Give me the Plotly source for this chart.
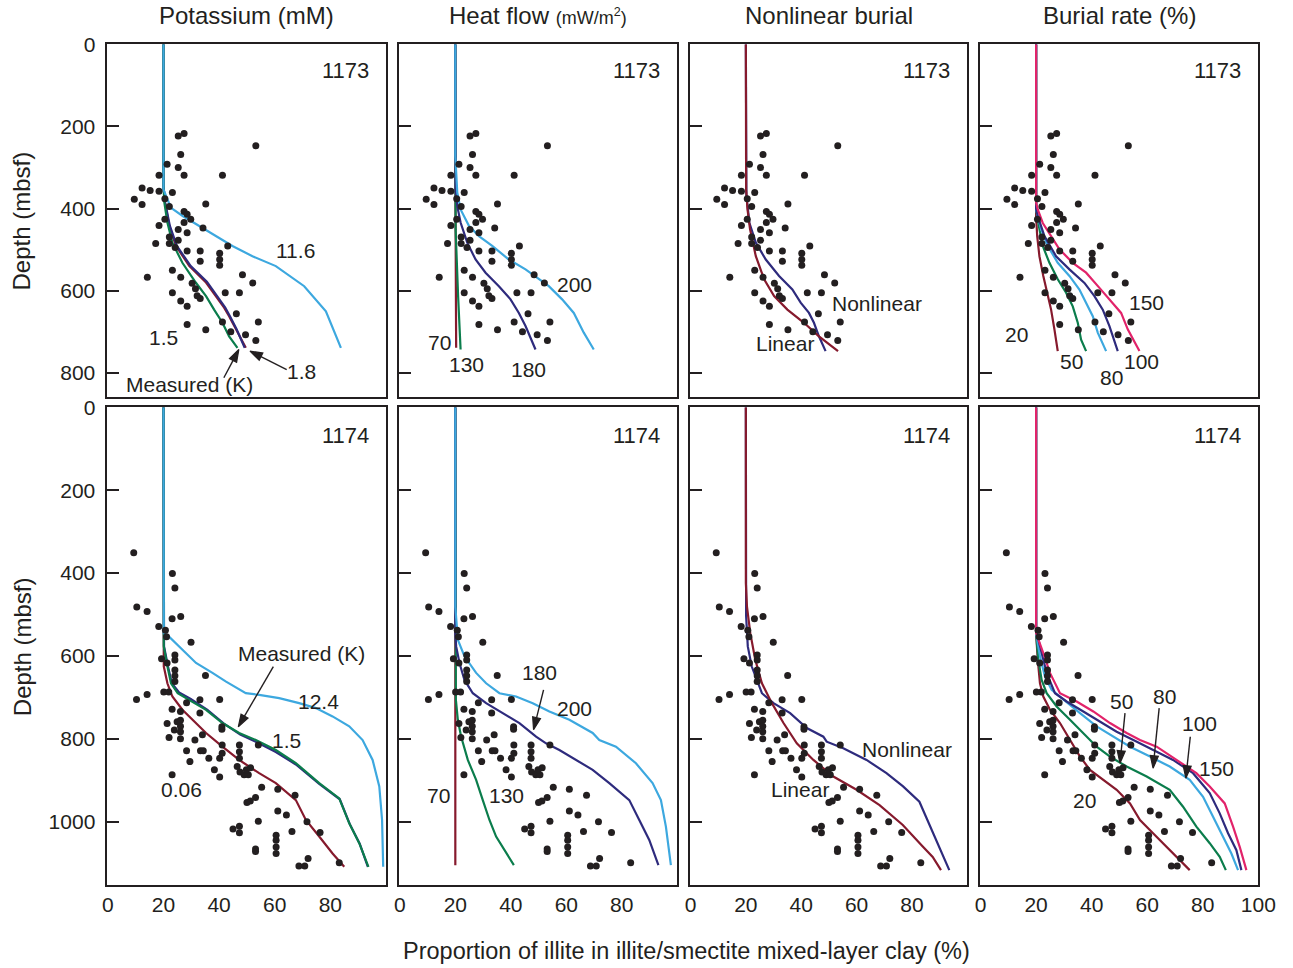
import plotly.graph_objects as go

FONT = "Liberation Sans, Arial, sans-serif"
INK = "#231F20"

SKY = "#3DA8DF"
GREEN = "#0B7D4C"
NAVY = "#2E2B7D"
MAROON = "#861A2D"
PINK = "#E2236A"

# ---- Measured illite proportion (%) vs depth (mbsf), Site 1173 ----
site1173_illite = [25.3, 27.4, 53.2, 26.2, 21.3, 25.3, 18.4, 27.4, 41.2, 12.3, 15.2, 18.4, 23.2, 9.5,
                   12.3, 20.5, 22.1, 35.2, 27.4, 28.5, 29.8, 27.4, 20.5, 18.4, 34.2, 25.3, 28.5, 22.1,
                   25.3, 17.2, 22.1, 24.2, 28.5, 33.2, 43.1, 40.2, 40.2, 40.2, 33.2, 23.2, 14.2, 26.2,
                   48.4, 52.1, 30.3, 31.5, 23.2, 26.2, 28.5, 33.2, 32.1, 42.2, 47.3, 46.2, 28.5, 35.2,
                   41.2, 54.1, 49.5, 44.2, 53.2]
site1173_depth = [223, 217, 247, 268, 292, 300, 319, 319, 319, 350, 356, 358, 361, 377,
                  390, 376, 395, 389, 407, 414, 426, 434, 426, 441, 447, 451, 459, 469,
                  477, 485, 485, 495, 503, 503, 491, 509, 524, 538, 528, 550, 567, 567,
                  561, 581, 582, 595, 605, 625, 638, 619, 612, 605, 605, 656, 682, 695,
                  676, 676, 707, 700, 721]

# ---- Measured illite proportion (%) vs depth (mbsf), Site 1174 ----
site1174_illite = [9.3, 23.2, 24.1, 10.4, 14.1, 23.1, 26.2, 18.3, 20.7, 21.1, 29.9, 24.1, 24.1, 19.3,
                   21.3, 24.1, 24.1, 35.1, 24.1, 10.3, 14.1, 20.1, 21.9, 28.3, 33.1, 40.2, 23.1, 26.1,
                   33.1, 41.0, 41.0, 21.3, 24.9, 26.1, 26.1, 26.1, 26.1, 23.9, 22.0, 34.0, 31.3, 28.3,
                   33.3, 34.3, 29.5, 36.3, 40.2, 41.1, 41.1, 47.3, 47.3, 47.3, 54.1, 38.3, 40.2, 23.1,
                   46.5, 47.5, 49.0, 50.5, 51.3, 49.8, 55.3, 61.1, 67.3, 53.1, 51.2, 50.0, 61.1, 64.2,
                   71.6, 54.1, 66.2, 76.3, 45.0, 47.3, 47.3, 60.5, 60.5, 60.5, 60.5, 53.1, 53.1, 72.0,
                   68.7, 70.8, 83.2]
site1174_depth = [351, 401, 436, 482, 493, 510, 505, 529, 538, 554, 567, 598, 610, 607,
                  617, 634, 648, 647, 662, 705, 693, 687, 687, 713, 706, 705, 729, 734,
                  738, 771, 777, 763, 759, 755, 770, 783, 800, 779, 797, 790, 803, 829,
                  829, 829, 855, 847, 847, 835, 815, 815, 831, 847, 815, 875, 892, 887,
                  867, 880, 887, 887, 870, 875, 917, 922, 936, 942, 950, 954, 974, 984,
                  1000, 999, 1024, 1026, 1018, 1011, 1027, 1033, 1045, 1061, 1077, 1066, 1072, 1089,
                  1107, 1107, 1099]

# ---- Model curves (illite %, depth mbsf) ----
# Site 1173, potassium (mM)
k1173_11_6 = [(20, 0), (20, 353), (20.9, 369), (22.7, 398), (26.9, 418), (32.8, 442), (38.9, 467),
              (44.8, 491), (52, 516), (60.4, 540), (70.6, 589), (78.4, 650), (83.8, 739)]
k1173_measured = [(20, 0), (20, 345), (20.3, 385), (21.4, 434), (23.2, 483), (26.8, 532), (31.6, 580),
                  (35.3, 613), (38.2, 646), (41.2, 678), (43.6, 711), (46.6, 739)]
k1173_1_5 = [(20, 0), (20, 345), (20.6, 385), (22.3, 442), (24.8, 491), (29.8, 540), (35.6, 578),
             (39.3, 612), (42.2, 641), (43.9, 662), (46.3, 694), (49.2, 739)]
k1173_1_8 = [(20, 0), (20, 345), (20.5, 385), (22.1, 442), (24.5, 491), (29.3, 540), (35.3, 580),
             (38.9, 613), (41.8, 641), (43.6, 662), (46, 694), (49.6, 739)]
# Site 1173, heat flow (mW/m2)
hf1173_70 = [(20, 0), (20, 300), (20.3, 739)]
hf1173_130 = [(20, 0), (20, 272), (20.1, 450), (21, 613), (21.9, 743)]
hf1173_180 = [(20, 0), (20, 300), (20.1, 353), (20.7, 394), (21.9, 434), (24.3, 483), (27.3, 524),
              (30.9, 556), (35.7, 589), (39.9, 621), (42.9, 654), (45.3, 686), (48.9, 743)]
hf1173_200 = [(20, 0), (20, 272), (20.7, 361), (21.9, 402), (24.9, 442), (28.5, 467), (33.3, 491),
              (39.3, 524), (45.3, 548), (53.7, 589), (58.5, 621), (62.7, 654), (66.3, 702), (69.9, 743)]
# Site 1173, linear vs nonlinear burial
nl1173_nonlinear = [(20, 0), (20, 300), (20.2, 369), (21.3, 435), (23.6, 483), (27.2, 524), (32, 564),
                    (36.8, 597), (39.8, 629), (42.8, 654), (44.6, 678), (46.4, 711), (48.8, 747)]
nl1173_linear = [(20, 0), (20, 288), (20.1, 353), (20.6, 402), (21.5, 450), (23.6, 516), (26.6, 572),
                 (30.2, 613), (35, 646), (41, 678), (46.4, 711), (53.3, 747)]
# Site 1173, burial rate (%)
br1173_20 = [(20, 0), (20, 418), (20.4, 467), (21.2, 516), (22.6, 564), (24.2, 613), (25.4, 646),
             (26.6, 694), (27.8, 747)]
br1173_50 = [(20, 0), (20, 402), (21.2, 450), (22.4, 491), (24.8, 532), (27.8, 572), (30.8, 605),
             (33.2, 638), (35, 678), (36.2, 719), (38, 747)]
br1173_80 = [(20, 0), (20, 402), (21.8, 450), (24.2, 491), (27.8, 532), (32, 564), (35.6, 597),
             (38, 629), (40.4, 662), (42.2, 702), (45.2, 747)]
br1173_100 = [(20, 0), (20, 400), (20.6, 418), (23, 467), (27.2, 516), (32, 548), (37.4, 581),
              (41, 613), (44, 646), (46.4, 686), (49.4, 747)]
br1173_150 = [(20, 0), (20, 385), (20.6, 402), (22.4, 435), (25.4, 467), (28.4, 499), (33.2, 532),
              (38, 556), (42.8, 593), (46.4, 621), (50.6, 654), (53, 694), (57.2, 747)]

# Site 1174, potassium (mM)
k1174_12_4 = [(20, 0), (20, 530), (20.1, 545), (21.9, 553), (25.6, 577), (31.7, 617), (37.6, 641),
              (42.5, 662), (49.6, 690), (54.4, 694), (61.6, 702), (68.8, 714), (74.8, 726), (80.8, 746),
              (86.8, 770), (91.6, 803), (95.2, 851), (97.6, 915), (98.6, 996), (99, 1109)]
k1174_1_5 = [(20, 0), (20, 545), (20.2, 577), (21.6, 625), (23, 666), (25.6, 688), (29.8, 704),
             (35.8, 730), (41.6, 763), (47.6, 790), (53.4, 808), (60.4, 832), (67.6, 862), (76, 909),
             (83.4, 946), (87, 1006), (90.6, 1054), (93.5, 1109)]
k1174_measured = [(20, 0), (20, 545), (20.1, 577), (21.4, 625), (22.7, 666), (25.1, 690), (29.3, 706),
                  (35.3, 730), (41.2, 762), (47.2, 786), (53.2, 803), (60.4, 827), (67.6, 859), (76, 907),
                  (83.2, 944), (86.8, 1004), (90.4, 1052), (93.7, 1109)]
k1174_0_06 = [(20, 0), (20, 561), (20.1, 625), (21.4, 666), (23.2, 698), (26.8, 730), (30.4, 754),
              (35.3, 786), (41.2, 819), (47.2, 851), (54.4, 883), (60.4, 907), (67.6, 948), (71.2, 996),
              (76, 1036), (80.8, 1077), (85, 1109)]
# Site 1174, heat flow (mW/m2)
hf1174_70 = [(20, 0), (20, 1105)]
hf1174_130 = [(20, 0), (20, 674), (20.2, 706), (20.9, 754), (22.1, 795), (24.5, 851), (27.5, 899),
              (29.9, 948), (32.3, 996), (34.7, 1036), (37.7, 1069), (41.1, 1105)]
hf1174_180 = [(20, 0), (20, 545), (20.3, 577), (21.5, 617), (23.3, 658), (26.3, 690), (31.1, 714),
              (37.1, 738), (43.1, 762), (49.1, 795), (52.7, 811), (57.5, 827), (63.5, 851), (69.5, 875),
              (75.5, 907), (82.7, 948), (86.3, 996), (89.9, 1044), (93.2, 1105)]
hf1174_200 = [(20, 0), (20, 481), (20.9, 561), (23.3, 601), (27.5, 641), (31.1, 666), (35.9, 690),
              (41.9, 698), (47.9, 714), (53.9, 734), (61.1, 754), (69.5, 786), (71.9, 803), (77.9, 819),
              (85.1, 859), (91.1, 907), (94.1, 948), (95.9, 1012), (97.7, 1105)]
# Site 1174, linear vs nonlinear burial
nl1174_nonlinear = [(20, 0), (20, 432), (20.1, 505), (20.7, 577), (22.1, 625), (25.8, 690), (30, 714),
                    (36, 738), (42, 774), (48, 795), (49.2, 807), (55.2, 823), (63.6, 851), (70.8, 883),
                    (76.8, 915), (82.7, 952), (85.1, 988), (88.7, 1044), (93.5, 1117)]
nl1174_linear = [(20, 0), (20, 424), (20.4, 481), (21.6, 545), (23.4, 609), (25.8, 666), (29.4, 714),
                 (33.6, 762), (38.4, 811), (44.4, 851), (51.6, 891), (60, 923), (68.3, 960), (76.7, 1008),
                 (83.9, 1060), (87.5, 1085), (90.5, 1117)]
# Site 1174, burial rate (%)
br1174_20 = [(20, 0), (20, 545), (20.6, 609), (21.4, 666), (22.6, 698), (25, 730), (28.6, 762),
             (32.2, 803), (35.8, 843), (39.4, 875), (44.2, 899), (49, 923), (53.8, 956), (57.4, 996),
             (62.1, 1028), (66.9, 1061), (70.6, 1085), (75.3, 1117)]
br1174_50 = [(20, 0), (20, 545), (20.8, 609), (22, 658), (23.8, 690), (27.4, 722), (32.2, 754),
             (37, 786), (41.8, 819), (46.6, 843), (52.6, 867), (59.8, 891), (68.1, 923), (72.9, 964),
             (77.7, 1012), (82.5, 1052), (86.1, 1085), (88.3, 1117)]
br1174_80 = [(20, 0), (20, 545), (21.4, 601), (23.2, 650), (25.6, 682), (29.8, 706), (35.8, 738),
             (41.8, 770), (47.8, 795), (53.8, 819), (61, 843), (68.1, 867), (75.3, 899), (80.1, 940),
             (83.7, 988), (87.3, 1036), (90.3, 1077), (92.7, 1117)]
br1174_100 = [(20, 0), (20, 537), (22, 593), (23.8, 641), (26.8, 690), (31, 710), (37, 734), (43, 758),
              (49, 783), (55, 803), (62.1, 827), (69.3, 851), (76.5, 883), (82.5, 931), (86.1, 980),
              (89.1, 1028), (92.1, 1069), (93.9, 1117)]
br1174_150 = [(20, 0), (20, 545), (22.6, 593), (25, 641), (28.6, 690), (34.6, 710), (40.6, 734),
              (46.6, 762), (52.6, 786), (57.4, 803), (63.4, 819), (70.6, 851), (77.7, 883), (82.5, 915),
              (87.9, 956), (90.9, 1012), (93.3, 1061), (95.7, 1117)]

column_titles = ["Potassium (mM)",
                 "Heat flow <span style='font-size:18px'>(mW/m<sup>2</sup>)</span>",
                 "Nonlinear burial", "Burial rate (%)"]
site_labels = ["1173", "1174"]
depth_ticks = [[0, 200, 400, 600, 800], [0, 200, 400, 600, 800, 1000]]
depth_range = [[858, 0], [1153, 0]]
x_ticks_inner = [0, 20, 40, 60, 80]
x_ticks_last = [0, 20, 40, 60, 80, 100]

# panel curves, drawn in order (last one on top)
panel_curves = {
    1: [(k1173_1_8, MAROON), (k1173_1_5, NAVY), (k1173_measured, GREEN), (k1173_11_6, SKY)],
    2: [(hf1173_70, MAROON), (hf1173_130, GREEN), (hf1173_180, NAVY), (hf1173_200, SKY)],
    3: [(nl1173_nonlinear, NAVY), (nl1173_linear, MAROON)],
    4: [(br1173_20, MAROON), (br1173_50, GREEN), (br1173_80, SKY), (br1173_100, NAVY), (br1173_150, PINK)],
    5: [(k1174_0_06, MAROON), (k1174_1_5, NAVY), (k1174_measured, GREEN), (k1174_12_4, SKY)],
    6: [(hf1174_70, MAROON), (hf1174_130, GREEN), (hf1174_180, NAVY), (hf1174_200, SKY)],
    7: [(nl1174_nonlinear, NAVY), (nl1174_linear, MAROON)],
    8: [(br1174_20, MAROON), (br1174_50, GREEN), (br1174_80, SKY), (br1174_100, NAVY), (br1174_150, PINK)],
}

# curve labels: (panel, text, illite, depth)
curve_labels = [
    (1, "11.6", 67.3, 503), (1, "1.5", 20, 715), (1, "Measured (K)", 29.5, 829), (1, "1.8", 69.7, 796),
    (2, "200", 63, 585), (2, "70", 14.4, 727), (2, "130", 24, 780), (2, "180", 46.2, 792),
    (3, "Nonlinear", 67.4, 631), (3, "Linear", 34.1, 729),
    (4, "150", 59.8, 628), (4, "20", 13, 707), (4, "50", 32.8, 772), (4, "80", 47.2, 812), (4, "100", 58, 772),
    (5, "Measured (K)", 69.7, 593), (5, "12.4", 75.7, 710), (5, "1.5", 64.3, 803), (5, "0.06", 26.6, 923),
    (6, "180", 50.4, 641), (6, "200", 63, 726), (6, "70", 13.8, 938), (6, "130", 38.4, 938),
    (7, "Nonlinear", 78.3, 825), (7, "Linear", 39.4, 923),
    (8, "50", 50.8, 710), (8, "80", 66.3, 698), (8, "100", 78.9, 762), (8, "150", 84.9, 871), (8, "20", 37.6, 948),
]

# pointer arrows: (panel, tail illite, tail depth, head illite, head depth)
pointer_arrows = [
    (1, 41.7, 812, 47.1, 743), (1, 64.3, 792, 51.1, 747),
    (5, 59.5, 626, 46.9, 771),
    (6, 51.8, 682, 48.2, 778),
    (8, 52, 738, 50.2, 859), (8, 64.3, 726, 62.1, 871), (8, 75.5, 795, 73.9, 895),
]

# panel placement on the page (paper fractions)
x_domains = [[0.0830, 0.2985], [0.3088, 0.5238], [0.5336, 0.7481], [0.7579, 0.9732]]
y_domains = [[0.5902, 0.9542], [0.0857, 0.5792]]

fig = go.Figure()
layout = dict(
    width=1293, height=968, margin=dict(l=0, r=0, t=0, b=0, autoexpand=False),
    paper_bgcolor="white", plot_bgcolor="white", showlegend=False,
    font=dict(family=FONT, color=INK, size=20),
)
annotations = []


def axis_suffix(k):
    return "" if k == 1 else str(k)


for k in range(1, 9):
    row = 0 if k <= 4 else 1
    col = (k - 1) % 4
    sfx = axis_suffix(k)
    xref, yref = "x" + sfx, "y" + sfx

    for pts, colour in panel_curves[k]:
        fig.add_trace(go.Scatter(
            x=[p[0] for p in pts], y=[p[1] for p in pts], mode="lines",
            line=dict(color=colour, width=2.2), xaxis=xref, yaxis=yref, hoverinfo="skip"))

    xs = site1173_illite if row == 0 else site1174_illite
    ds = site1173_depth if row == 0 else site1174_depth
    fig.add_trace(go.Scatter(
        x=xs, y=ds, mode="markers", marker=dict(color=INK, size=7),
        xaxis=xref, yaxis=yref))

    layout["xaxis" + sfx] = dict(
        domain=x_domains[col], anchor=yref, range=[-0.2, 100], automargin=False,
        showline=True, mirror=True, linecolor=INK, linewidth=1.6,
        showgrid=False, zeroline=False, ticks="",
        tickvals=x_ticks_last if col == 3 else x_ticks_inner,
        showticklabels=(row == 1), tickfont=dict(size=21, color=INK, family=FONT),
        ticklabelstandoff=0,
    )
    layout["yaxis" + sfx] = dict(
        domain=y_domains[row], anchor=xref, range=depth_range[row], automargin=False,
        showline=True, mirror=True, linecolor=INK, linewidth=1.6,
        showgrid=False, zeroline=False, ticks="inside", ticklen=12, tickwidth=1.5, tickcolor=INK,
        tickvals=depth_ticks[row], showticklabels=(col == 0),
        tickfont=dict(size=21, color=INK, family=FONT), ticklabelstandoff=6,
    )

    annotations.append(dict(
        xref=xref, yref=yref, x=94.5, y=64 if row == 0 else 68, text=site_labels[row],
        showarrow=False, xanchor="right", yanchor="middle",
        font=dict(size=22, color=INK, family=FONT)))

for k, txt, xv, dv in curve_labels:
    sfx = axis_suffix(k)
    annotations.append(dict(
        xref="x" + sfx, yref="y" + sfx, x=xv, y=dv, text=txt, showarrow=False,
        xanchor="center", yanchor="middle", font=dict(size=21, color=INK, family=FONT)))

# pointer arrows as short lines ending in an arrowhead marker
for k, tx, td, hx, hd in pointer_arrows:
    sfx = axis_suffix(k)
    fig.add_trace(go.Scatter(
        x=[tx, hx], y=[td, hd], mode="lines+markers",
        line=dict(color=INK, width=1.4),
        marker=dict(symbol="arrow", angleref="previous", size=[0, 13], color=INK,
                    opacity=1, line=dict(width=1.2, color=INK)),
        xaxis="x" + sfx, yaxis="y" + sfx, hoverinfo="skip"))

for col, title in enumerate(column_titles):
    annotations.append(dict(
        xref="paper", yref="paper", x=sum(x_domains[col]) / 2, y=0.9845, text=title,
        showarrow=False, xanchor="center", yanchor="middle",
        font=dict(size=24, color=INK, family=FONT)))

for row in range(2):
    annotations.append(dict(
        xref="paper", yref="paper", x=0.017, y=sum(y_domains[row]) / 2, text="Depth (mbsf)",
        textangle=-90, showarrow=False, xanchor="center", yanchor="middle",
        font=dict(size=24, color=INK, family=FONT)))

annotations.append(dict(
    xref="paper", yref="paper", x=0.531, y=0.0176,
    text="Proportion of illite in illite/smectite mixed-layer clay (%)",
    showarrow=False, xanchor="center", yanchor="middle",
    font=dict(size=23.5, color=INK, family=FONT)))

layout["annotations"] = annotations
fig.update_layout(**layout)
fig.write_html("out.html")
